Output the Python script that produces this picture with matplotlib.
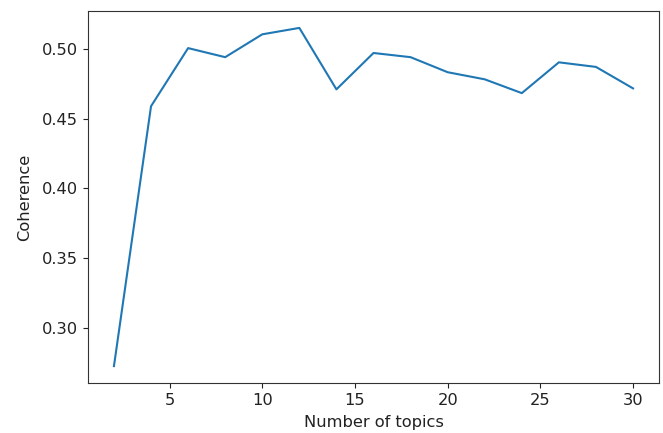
import matplotlib
matplotlib.use("Agg")
import matplotlib.pyplot as plt

num_topics = [2, 4, 6, 8, 10, 12, 14, 16, 18, 20, 22, 24, 26, 28, 30]
coherence = [0.2725, 0.459, 0.5007, 0.4942, 0.5106, 0.5152, 0.4711, 0.4972,
             0.4942, 0.4834, 0.4783, 0.4684, 0.4905, 0.4872, 0.4718]

plt.rcParams['font.family'] = ['DejaVu Sans']
fig = plt.figure(figsize=(6.63, 4.33), dpi=100)
ax = fig.add_axes([88/663, 1 - 383/433, (659-88)/663, (383-11)/433])
ax.plot(num_topics, coherence, color='#1f77b4', linewidth=1.5)
ax.set_xticks([5, 10, 15, 20, 25, 30])
ax.set_yticks([0.30, 0.35, 0.40, 0.45, 0.50])
ax.tick_params(labelsize=11.7, colors='#222222')
ax.set_xlabel('Number of topics', fontsize=11.7, color='#222222', labelpad=5.5)
ax.set_ylabel('Coherence', fontsize=11.7, color='#222222', labelpad=7.5)
for s in ax.spines.values():
    s.set_color('#333333')
fig.savefig('out.png', dpi=100)
